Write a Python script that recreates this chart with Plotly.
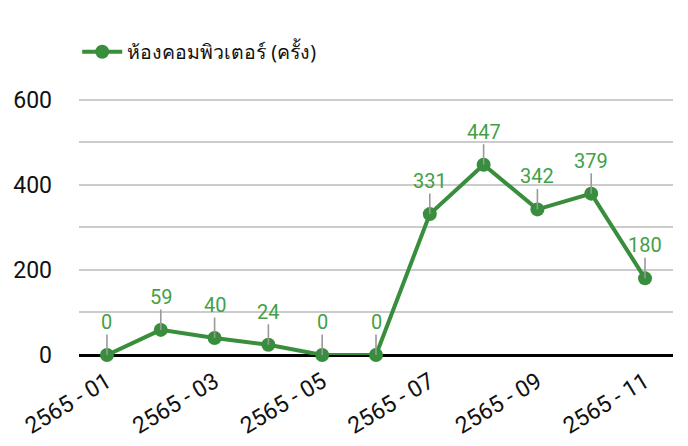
import plotly.graph_objects as go

months = ["2565 - 01", "2565 - 02", "2565 - 03", "2565 - 04", "2565 - 05", "2565 - 06",
          "2565 - 07", "2565 - 08", "2565 - 09", "2565 - 10", "2565 - 11"]
values = [0, 59, 40, 24, 0, 0, 331, 447, 342, 379, 180]
tick_months = ["2565 - 01", "2565 - 03", "2565 - 05", "2565 - 07", "2565 - 09", "2565 - 11"]
y_ticks = [0, 200, 400, 600]
series_name = "ห้องคอมพิวเตอร์ (ครั้ง)"

line_color = "#388e3c"
label_color = "#43a047"

fig = go.Figure()
fig.add_trace(go.Scatter(
    x=months, y=values, mode="lines+markers", name=series_name,
    line=dict(color=line_color, width=4),
    marker=dict(color=line_color, size=14),
    cliponaxis=False,
))

for m, v in zip(months, values):
    fig.add_annotation(
        x=m, y=v, text=str(v), showarrow=True, arrowhead=0, arrowwidth=1.6,
        arrowcolor="#999999", ax=0, ay=-33, standoff=0,
        font=dict(family="Roboto", size=20, color=label_color),
        borderpad=0,
    )

# page body has an 8px default margin; the figure is sized to fill the rest
fig.update_layout(
    width=680, height=438,
    margin=dict(l=71, r=15, t=89, b=91, autoexpand=False),
    paper_bgcolor="white", plot_bgcolor="white",
    font=dict(family="Roboto, Noto Sans, sans-serif", color="#111111"),
    showlegend=True,
    legend=dict(x=-0.003, y=1.174, xanchor="left", yanchor="middle", orientation="h",
                font=dict(family="Noto Sans, Roboto", size=19.5, color="#111111"),
                itemwidth=40),
    xaxis=dict(type="category", tickmode="array", tickvals=tick_months, ticktext=tick_months,
               range=[-0.52, 10.52],
               tickangle=-31, tickfont=dict(size=23, color="#111111"),
               showgrid=False, showline=False, ticks="", automargin=False,
               ticklabelstandoff=8),
    yaxis=dict(range=[0, 606], tickvals=y_ticks,
               tickfont=dict(size=23, color="#111111"),
               showgrid=True, gridcolor="#cccccc", gridwidth=2,
               minor=dict(dtick=100, showgrid=True, gridcolor="#cccccc", gridwidth=2),
               zeroline=True, zerolinecolor="#000000", zerolinewidth=2.5,
               ticks="", ticklabelstandoff=26, automargin=False),
)

fig.write_html("out.html")
